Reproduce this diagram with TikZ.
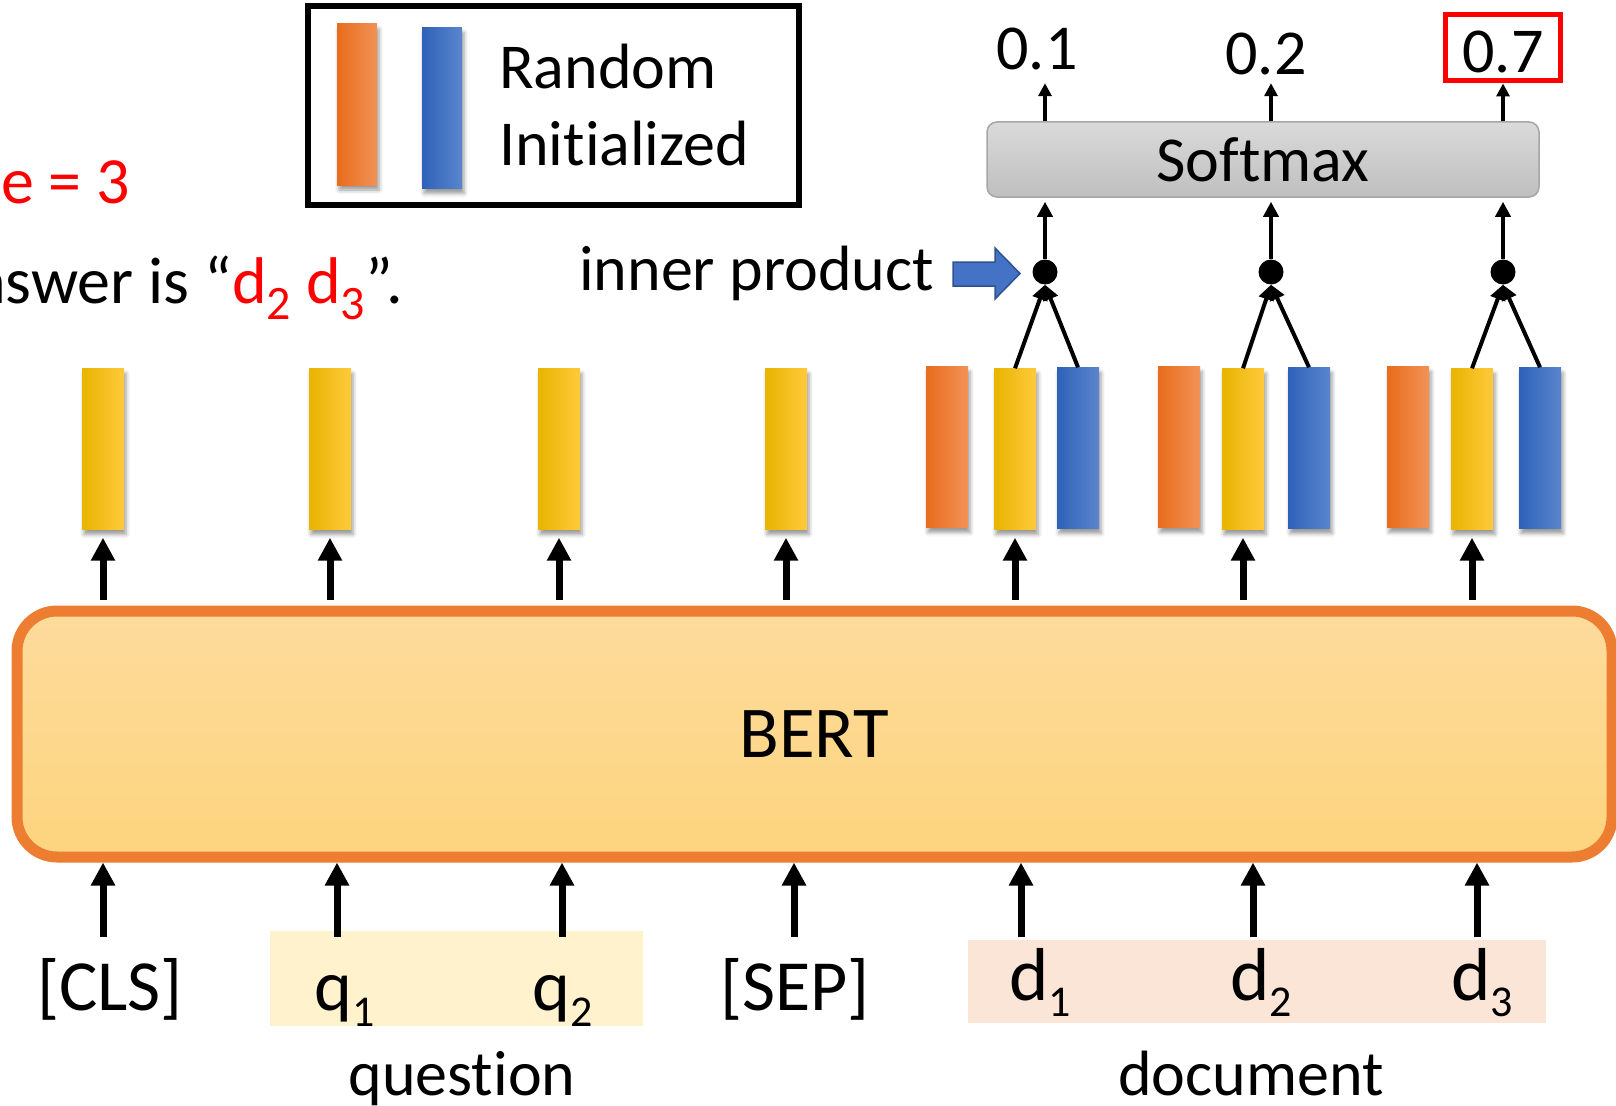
\documentclass[tikz,border=0pt]{standalone}
\usepackage{fontspec}
\setmainfont{Carlito}[Ligatures={TeX,NoCommon}]
\usetikzlibrary{arrows.meta,shadows.blur}

\definecolor{orgL}{HTML}{E86C1C}
\definecolor{orgM}{HTML}{F58230}
\definecolor{orgR}{HTML}{F29257}
\definecolor{ylwL}{HTML}{E8B400}
\definecolor{ylwM}{HTML}{FFC400}
\definecolor{ylwR}{HTML}{FFCA3C}
\definecolor{bluL}{HTML}{2E62B8}
\definecolor{bluM}{HTML}{3C6EC6}
\definecolor{bluR}{HTML}{5A85CE}
\definecolor{bertTop}{HTML}{FDDB9C}
\definecolor{bertBot}{HTML}{FDD47E}
\definecolor{bertLine}{HTML}{ED7D31}
\definecolor{smTop}{HTML}{DADADA}
\definecolor{smBot}{HTML}{BFBFBF}
\definecolor{smLine}{HTML}{A6A6A6}
\definecolor{ipFill}{HTML}{4472C4}
\definecolor{ipLine}{HTML}{2F528F}
\definecolor{qBack}{HTML}{FFF2CC}
\definecolor{dBack}{HTML}{FBE5D6}

\newcommand{\lowidx}[2][44]{\raisebox{-16pt}{\fontsize{#1}{#1}\selectfont #2}}

\begin{document}
\begin{tikzpicture}[
    x=1pt, y=-1pt,
    every node/.style={font=\fontsize{64}{76}\selectfont, inner sep=0pt},
    bar/.style={minimum width=42pt, minimum height=161pt,
      blur shadow={shadow xshift=2pt, shadow yshift=-5pt, shadow blur radius=4pt, shadow opacity=40}},
    obar/.style={bar, left color=orgL, middle color=orgM, right color=orgR},
    ybar/.style={bar, left color=ylwL, middle color=ylwM, right color=ylwR},
    bbar/.style={bar, left color=bluL, middle color=bluM, right color=bluR},
    bertbox/.style={draw=bertLine, line width=11pt, rounded corners=40pt, top color=bertTop, bottom color=bertBot,
      minimum width=1595pt, minimum height=246pt, font=\fontsize{73}{80}\selectfont},
    smbox/.style={draw=smLine, line width=1.5pt, rounded corners=10pt, top color=smTop, bottom color=smBot,
      minimum width=552pt, minimum height=75pt},
    prob/.style={anchor=base, text height=55pt, text depth=5pt, inner ysep=3pt, minimum width=115pt},
    dot/.style={circle, fill=black, minimum size=25pt},
    tok/.style={anchor=base, font=\fontsize{72}{80}\selectfont},
    dtok/.style={anchor=base, font=\fontsize{75}{80}\selectfont},
    bigflow/.style={-{Triangle[length=23pt,width=23pt]}, line width=7pt},
    flow/.style={-{Triangle[length=15pt,width=15pt]}, line width=4pt},
    smallflow/.style={-{Triangle[length=13pt,width=13pt]}, line width=3.5pt}
]
\useasboundingbox (0,0) rectangle (1616,1105);

\node[fill=qBack, minimum width=373pt, minimum height=95pt] (qback) at (456.5,978.5) {};
\node[fill=dBack, minimum width=578pt, minimum height=83pt] (dback) at (1257,981.5) {};

\node[anchor=base west, red, font=\fontsize{66}{76}\selectfont] (size) at (1,203) {e = 3};
\node[anchor=base west, font=\fontsize{66}{76}\selectfont] (answer) at (-29,303)
  {nswer is “\textcolor{red}{d\lowidx[48]{2} d\lowidx[48]{3}}”.};

\node[draw, line width=6pt, minimum width=491pt, minimum height=199pt] (legend) at (553.5,105.5) {};
\node[obar, minimum width=40pt] (lgorange) at (357,104.5) {};
\node[bbar, minimum width=40pt] (lgblue) at (442,108) {};
\node[anchor=base west] (lgrandom) at (499,89) {Random};
\node[anchor=base west] (lginit) at (499,165) {Initialized};

\node[bertbox] (bert) at (814.5,734) {BERT};
\node[smbox] (softmax) at (1263,159.5) {Softmax};

\foreach \x [count=\i] in {103,330,559,786,1015,1243,1472}
  \node[ybar] (h\i) at (\x,449) {};
\foreach \x [count=\i] in {947,1179,1408}
  \node[obar] (o\i) at (\x,447) {};
\foreach \x [count=\i] in {1078,1309,1540}
  \node[bbar] (b\i) at (\x,448) {};

\foreach \i in {1,...,7}
  \draw[bigflow, shorten <=6pt, shorten >=8pt] (h\i.south |- bert.north) -- (h\i.south);

\node[tok] (cls) at (110,1010) {[CLS]};
\node[tok] (q1) at (345,1010) {q\lowidx{1}};
\node[tok] (q2) at (563,1010) {q\lowidx{2}};
\node[tok] (sep) at (795,1010) {[SEP]};
\node[dtok] (d1) at (1040,1000) {d\lowidx{1}};
\node[dtok] (d2) at (1261,1000) {d\lowidx{2}};
\node[dtok] (d3) at (1482,1000) {d\lowidx{3}};
\node[anchor=base] (question) at (462,1095) {question};
\node[anchor=base] (document) at (1251,1095) {document};

\foreach \x [count=\i] in {103,337,562,794,1021,1253,1477} {
  \coordinate (in\i) at (\x,937);
  \draw[bigflow] (in\i) -- (in\i |- bert.south);
}

\foreach \x [count=\i] in {1045,1271,1503}
  \node[dot] (dot\i) at (\x,272) {};

\node[prob, text depth=10pt] (p1) at (1037,70) {0.1};
\node[prob] (p2) at (1266,75) {0.2};
\node[prob, draw=red, line width=5pt] (p3) at (1503,73) {0.7};

\foreach \i [evaluate=\i as \j using int(\i+4)] in {1,2,3} {
  \draw[flow] (h\j.north) -- (dot\i.south);
  \draw[flow] (b\i.north) -- (dot\i.south);
  \draw[flow, shorten >=4pt] (dot\i.north) -- (dot\i |- softmax.south);
  \draw[smallflow] (dot\i |- softmax.north) -- (dot\i |- p\i.south);
}

\node[anchor=base west] (inner) at (579,290) {inner product};
\draw[fill=ipFill, draw=ipLine, line width=1.5pt]
  (953,262) -- (995,262) -- (995,248) -- (1020,273.5) -- (995,299) -- (995,286) -- (953,286) -- cycle;
\end{tikzpicture}
\end{document}
